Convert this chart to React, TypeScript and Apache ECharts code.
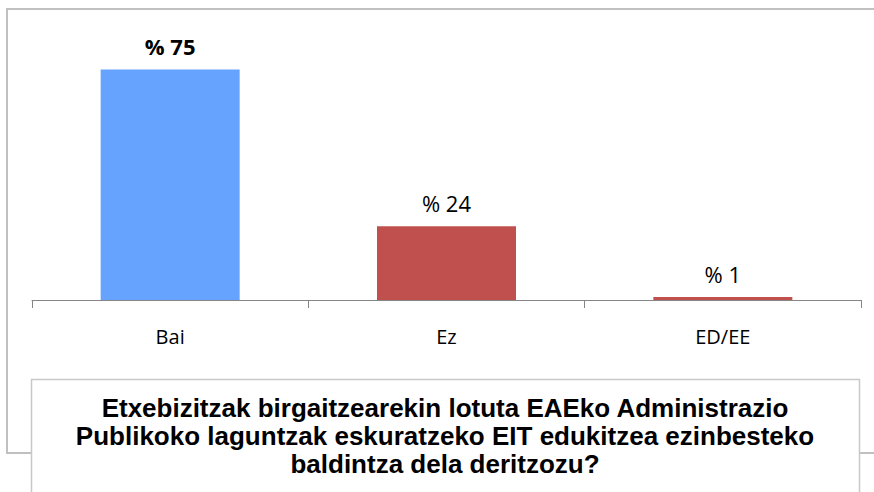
import React, { useEffect, useRef } from "react";
import * as echarts from "echarts";

const categories = ["Bai", "Ez", "ED/EE"];
const values = [75, 24, 1];
const barColors = ["#66A3FF", "#C0504D", "#C0504D"];
const boldLabels = [true, false, false];
const titleLines = [
  "Etxebizitzak birgaitzearekin lotuta EAEko Administrazio",
  "Publikoko laguntzak eskuratzeko EIT edukitzea ezinbesteko",
  "baldintza dela deritzozu?",
];

export default function App() {
  const ref = useRef<HTMLDivElement>(null);
  useEffect(() => {
    if (!ref.current) return;
    const chart = echarts.init(ref.current, null, { renderer: "svg" });
    chart.setOption({
      animation: false,
      grid: { left: 32, right: 13, top: 54, bottom: 192 },
      xAxis: {
        type: "category",
        data: categories,
        axisLine: { lineStyle: { color: "#868686", width: 1 } },
        axisTick: { show: true, length: 8, lineStyle: { color: "#868686" } },
        axisLabel: {
          color: "#000",
          fontSize: 20,
          fontFamily: "Open Sans",
          margin: 26,
        },
      },
      yAxis: {
        type: "value",
        min: 0,
        max: 80,
        show: false,
        splitLine: { show: false },
      },
      graphic: [
        {
          type: "rect",
          shape: { x: 7, y: 9, width: 900, height: 444 },
          style: { fill: "none", stroke: "#c0c0c0", lineWidth: 2 },
          z: 0,
        },
        {
          type: "rect",
          shape: { x: 31.5, y: 379.5, width: 828, height: 200 },
          style: { fill: "#fff", stroke: "#c8c8c8", lineWidth: 1.5 },
          z: 10,
        },
        {
          type: "text",
          x: 445,
          y: 394,
          z: 11,
          style: {
            text: titleLines.join("\n"),
            fill: "#000",
            fontSize: 26,
            fontWeight: "bold",
            fontFamily: "Liberation Sans",
            lineHeight: 28,
            align: "center",
            verticalAlign: "top",
          },
        },
      ],
      series: [
        {
          type: "bar",
          barWidth: 139,
          data: values.map((v, i) => ({
            value: v,
            itemStyle: { color: barColors[i] },
            label: {
              show: true,
              position: "top",
              distance: 12,
              formatter: "% {c}",
              color: "#000",
              fontSize: 22,
              fontFamily: "Open Sans",
              fontWeight: boldLabels[i] ? "bold" : "normal",
            },
          })),
        },
      ],
    });
    return () => chart.dispose();
  }, []);
  return (
    <div
      ref={ref}
      style={{ position: "fixed", left: 0, top: 0, width: 874, height: 492, background: "#fff" }}
    />
  );
}
